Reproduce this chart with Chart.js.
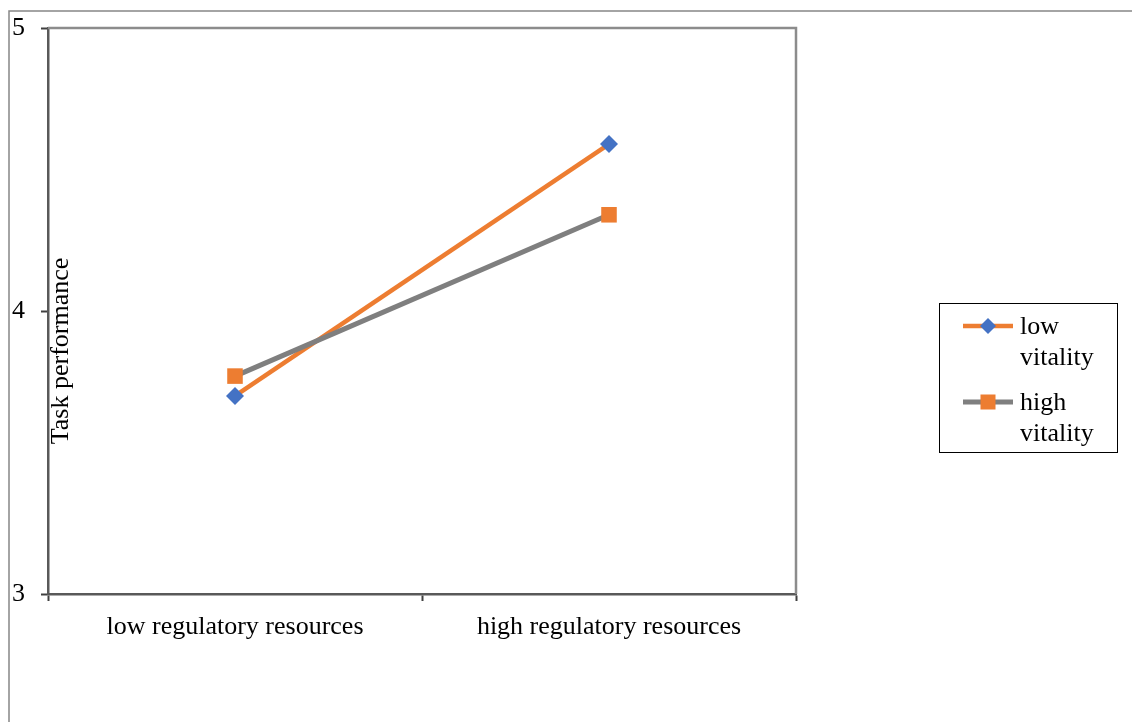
<!DOCTYPE html>
<html>
<head>
<meta charset="utf-8">
<script src="https://cdn.jsdelivr.net/npm/chart.js@4.4.1/dist/chart.umd.min.js"></script>
<style>
    html, body { margin: 0; padding: 0; background: #fff; }
    #wrap { position: relative; width: 1132px; height: 722px; }
</style>
</head>
<body>
<div id="wrap"><canvas id="chart" width="1132" height="722"></canvas></div>
<script>
const categories = ['low regulatory resources', 'high regulatory resources'];
const seriesNames = [['low', 'vitality'], ['high', 'vitality']];
const lowVitality = [3.70, 4.59];
const highVitality = [3.77, 4.34];
const yTicks = [3, 4, 5];

const serif = '"Liberation Serif", "Times New Roman", serif';
const fontSize = 26;

// frame round the plot, outer border, rotated axis title and the legend box
const decorPlugin = {
    id: 'decor',
    beforeDatasetsDraw(chart) {
        const a = chart.chartArea;
        const ctx = chart.ctx;
        ctx.save();
        ctx.strokeStyle = '#8c8c8c';
        ctx.lineWidth = 2.5;
        ctx.beginPath();
        ctx.moveTo(a.left, a.top);
        ctx.lineTo(a.right, a.top);
        ctx.lineTo(a.right, a.bottom);
        ctx.stroke();

        ctx.fillStyle = '#000';
        ctx.font = fontSize + 'px ' + serif;
        ctx.translate(61, 351);
        ctx.rotate(-Math.PI / 2);
        ctx.textAlign = 'center';
        ctx.textBaseline = 'middle';
        ctx.fillText('Task performance', 0, 0);
        ctx.restore();
    },
    afterDraw(chart) {
        const ctx = chart.ctx;
        ctx.save();
        ctx.strokeStyle = '#868686';
        ctx.lineWidth = 1.5;
        ctx.beginPath();
        ctx.moveTo(1132, 11);
        ctx.lineTo(9, 11);
        ctx.lineTo(9, 722);
        ctx.stroke();

        // legend
        ctx.strokeStyle = '#000';
        ctx.lineWidth = 1;
        ctx.strokeRect(939.5, 303.5, 178, 149);
        ctx.font = fontSize + 'px ' + serif;
        ctx.fillStyle = '#000';
        ctx.textBaseline = 'middle';
        const rows = [326, 402];
        chart.data.datasets.forEach(function(ds, i) {
            const y = rows[i];
            ctx.strokeStyle = ds.borderColor;
            ctx.lineWidth = ds.borderWidth;
            ctx.beginPath();
            ctx.moveTo(963, y);
            ctx.lineTo(1013, y);
            ctx.stroke();
            ctx.fillStyle = ds.pointBackgroundColor;
            if (ds.pointStyle === 'rectRot') {
                ctx.beginPath();
                ctx.moveTo(988, y - 8);
                ctx.lineTo(996, y);
                ctx.lineTo(988, y + 8);
                ctx.lineTo(980, y);
                ctx.closePath();
                ctx.fill();
            } else {
                ctx.fillRect(980.5, y - 7.5, 15, 15);
            }
            ctx.fillStyle = '#000';
            ctx.fillText(seriesNames[i][0], 1020, y + 1);
            ctx.fillText(seriesNames[i][1], 1020, y + 32);
        });
        ctx.restore();
    }
};

new Chart(document.getElementById('chart').getContext('2d'), {
    type: 'line',
    data: {
        labels: categories,
        datasets: [
            {
                label: 'low vitality',
                data: lowVitality,
                borderColor: '#ed7d31',
                borderWidth: 4.5,
                pointStyle: 'rectRot',
                pointRadius: 9,
                pointHoverRadius: 9,
                pointBackgroundColor: '#4472c4',
                pointBorderWidth: 0,
                order: 2
            },
            {
                label: 'high vitality',
                data: highVitality,
                borderColor: '#7f7f7f',
                borderWidth: 5,
                pointStyle: 'rect',
                pointRadius: 11,
                pointHoverRadius: 11,
                pointBackgroundColor: '#ed7d31',
                pointBorderWidth: 0,
                order: 1
            }
        ]
    },
    options: {
        responsive: false,
        animation: false,
        layout: {
            padding: { left: 12, top: 28, right: 336, bottom: 78 }
        },
        scales: {
            x: {
                offset: true,
                afterFit: function(axis) { axis.height = 50; },
                grid: {
                    offset: true,
                    drawOnChartArea: false,
                    tickLength: 7,
                    tickColor: '#404040',
                    tickWidth: 2
                },
                border: { color: '#595959', width: 2.5 },
                ticks: {
                    color: '#000',
                    padding: 11,
                    font: { family: serif, size: fontSize }
                }
            },
            y: {
                min: 3,
                max: 5,
                afterFit: function(axis) { axis.width = 36; },
                afterBuildTicks: function(axis) {
                    axis.ticks = yTicks.map(v => ({ value: v }));
                },
                grid: {
                    drawOnChartArea: false,
                    tickLength: 7,
                    tickColor: '#404040',
                    tickWidth: 2
                },
                border: { color: '#595959', width: 2.5 },
                ticks: {
                    color: '#000',
                    padding: 0,
                    crossAlign: 'far',
                    font: { family: serif, size: fontSize }
                }
            }
        },
        plugins: {
            legend: { display: false },
            tooltip: { enabled: false }
        }
    },
    plugins: [decorPlugin]
});
</script>
</body>
</html>
